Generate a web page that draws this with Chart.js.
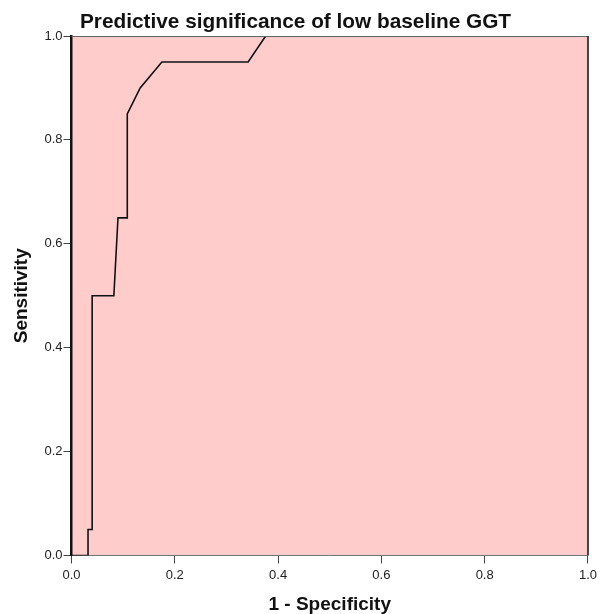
<!DOCTYPE html>
<html>
<head>
<meta charset="utf-8">
<script src="https://cdn.jsdelivr.net/npm/chart.js@4/dist/chart.umd.min.js"></script>
<style>
  html, body { margin: 0; padding: 0; background: #fff; }
  #wrap { width: 601px; height: 614px; }
</style>
</head>
<body>
<div id="wrap"><canvas id="roc"></canvas></div>
<script>
// ROC curve points
const specComplement = [0, 0.032, 0.032, 0.040, 0.040, 0.082, 0.090, 0.108, 0.108, 0.133, 0.175, 0.342, 0.376, 1.0];
const sensitivity    = [0, 0,     0.05,  0.05,  0.50,  0.50,  0.65,  0.65,  0.85,  0.90,  0.95,  0.95,  1.0,   1.0];
const xTicks = [0, 0.2, 0.4, 0.6, 0.8, 1.0];
const yTicks = [0, 0.2, 0.4, 0.6, 0.8, 1.0];

const points = specComplement.map((x, i) => ({ x: x, y: sensitivity[i] }));

// pink plot background + frame (top / right edges)
const plotFrame = {
  id: 'plotFrame',
  beforeDraw(chart) {
    const { ctx, chartArea: a } = chart;
    ctx.save();
    ctx.fillStyle = '#ffcccc';
    ctx.fillRect(a.left, a.top, a.right - a.left, a.bottom - a.top);
    ctx.restore();
  },
  afterDraw(chart) {
    const { ctx, chartArea: a } = chart;
    ctx.save();
    ctx.lineWidth = 1;
    ctx.strokeStyle = '#666';
    ctx.beginPath();
    ctx.moveTo(a.left, a.top + 0.5);
    ctx.lineTo(a.right, a.top + 0.5);
    ctx.stroke();
    ctx.strokeStyle = '#444';
    ctx.lineWidth = 2;
    ctx.beginPath();
    ctx.moveTo(a.right, a.top);
    ctx.lineTo(a.right, a.bottom);
    ctx.stroke();
    ctx.restore();
  }
};

Chart.defaults.font.family = '"Liberation Sans", Arial, sans-serif';
Chart.defaults.color = '#222';

new Chart(document.getElementById('roc'), {
  type: 'scatter',
  data: {
    datasets: [{
      data: points,
      showLine: true,
      borderColor: '#111',
      borderWidth: 1.6,
      pointRadius: 0,
      tension: 0
    }]
  },
  options: {
    responsive: true,
    maintainAspectRatio: false,
    animation: false,
    layout: { padding: { left: 0, right: 10, top: 0, bottom: 0 } },
    plugins: {
      legend: { display: false },
      tooltip: { enabled: false },
      title: {
        display: true,
        text: 'Predictive significance of low baseline GGT',
        font: { size: 20.8, weight: 'bold', lineHeight: 1 },
        color: '#111',
        padding: { top: 11.6, bottom: 3.6 }
      }
    },
    scales: {
      x: {
        type: 'linear',
        min: 0, max: 1,
        afterFit(s) { s.height = 58.5; },
        afterBuildTicks(s) { s.ticks = xTicks.map(v => ({ value: v })); },
        ticks: {
          font: { size: 13 },
          padding: 4,
          callback: v => v.toFixed(1)
        },
        grid: { drawOnChartArea: false, drawTicks: true, tickLength: 8, color: '#444' },
        border: { display: true, color: '#777', width: 1 },
        title: {
          display: true,
          text: '1 - Specificity',
          font: { size: 19, weight: 'bold', lineHeight: 1 },
          color: '#111',
          padding: { top: 0, bottom: 0 }
        }
      },
      y: {
        type: 'linear',
        min: 0, max: 1,
        afterFit(s) { s.width = 71.5; },
        afterBuildTicks(s) { s.ticks = yTicks.map(v => ({ value: v })); },
        ticks: {
          font: { size: 13 },
          padding: 1,
          callback: v => v.toFixed(1)
        },
        grid: { drawOnChartArea: false, drawTicks: true, tickLength: 8, color: '#444' },
        border: { display: true, color: '#111', width: 2.5 },
        title: {
          display: true,
          text: 'Sensitivity',
          font: { size: 19, weight: 'bold', lineHeight: 1 },
          color: '#111',
          padding: { top: 12.5, bottom: 0 }
        }
      }
    }
  },
  plugins: [plotFrame]
});
</script>
</body>
</html>
